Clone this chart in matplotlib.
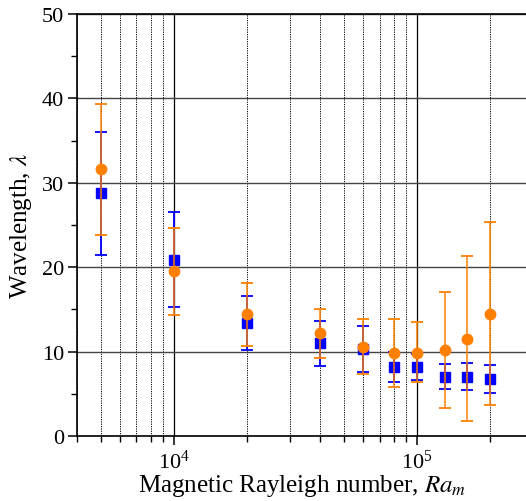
import matplotlib
matplotlib.use('Agg')
import matplotlib.pyplot as plt
import numpy as np

plt.rcParams['font.family'] = ['Liberation Serif', 'DejaVu Serif']
plt.rcParams['mathtext.fontset'] = 'stix'

# 数据
ra = [5000, 10000, 20000, 40000, 60000, 80000, 100000, 130000, 160000, 200000]

blue_y = [28.8, 20.9, 13.35, 11.0, 10.3, 8.2, 8.15, 7.0, 7.0, 6.75]
blue_lo = [21.5, 15.25, 10.2, 8.35, 7.6, 6.45, 6.6, 5.55, 5.4, 5.1]
blue_hi = [36.05, 26.5, 16.55, 13.6, 13.05, 9.9, 9.7, 8.55, 8.65, 8.45]

orange_y = [31.6, 19.6, 14.4, 12.15, 10.6, 9.85, 9.85, 10.2, 11.5, 14.5]
orange_lo = [23.8, 14.35, 10.65, 9.3, 7.35, 5.85, 6.35, 3.35, 1.8, 3.7]
orange_hi = [39.4, 24.7, 18.1, 15.0, 13.85, 13.9, 13.45, 17.05, 21.35, 25.4]

blue = '#0000ff'
orange = '#ff8000'

fig = plt.figure(figsize=(5.26, 5.02), dpi=100)
ax = fig.add_axes([0.147, 0.1295, 0.853, 0.8405])

# 误差棒
by = np.array(blue_y)
ax.errorbar(ra, by, yerr=[by - np.array(blue_lo), np.array(blue_hi) - by],
            fmt='s', color=blue, ms=6.5, ecolor=blue, elinewidth=1.3,
            capsize=4.3, capthick=1.3, zorder=3)
oy = np.array(orange_y)
eb = ax.errorbar(ra, oy, yerr=[oy - np.array(orange_lo), np.array(orange_hi) - oy],
                 fmt='o', color=orange, ms=7.5, ecolor=orange, elinewidth=1.5,
                 capsize=4.3, capthick=1.3, zorder=4)
for c in eb[2]:
    c.set_alpha(0.75)

ax.set_xscale('log')
ax.set_xlim(4000, 2.8e5)
ax.set_ylim(0, 50)
ax.set_yticks([0, 10, 20, 30, 40, 50])
ax.set_yticks([5, 15, 25, 35, 45], minor=True)

# 网格
ax.grid(True, which='major', axis='x', color='black', lw=0.9, ls='-')
ax.grid(True, which='minor', axis='x', color='black', lw=0.7, ls=(0, (1.2, 1.2)))
ax.grid(True, which='major', axis='y', color='#444444', lw=1.0, ls='-')
ax.set_axisbelow(True)

ax.tick_params(which='major', direction='out', length=6.5, width=1.1, labelsize=16, pad=3)
ax.tick_params(which='minor', direction='out', length=4, width=1.0)
ax.xaxis.set_minor_formatter(matplotlib.ticker.NullFormatter())
ax.spines['right'].set_visible(False)
for s in ['left', 'bottom', 'top']:
    ax.spines[s].set_linewidth(1.2)

ax.set_xlabel('Magnetic Rayleigh number, $Ra_m$', fontsize=18, labelpad=0)
ax.set_ylabel('Wavelength, $\\lambda$', fontsize=18, labelpad=6)

plt.savefig('out.png', dpi=100)
